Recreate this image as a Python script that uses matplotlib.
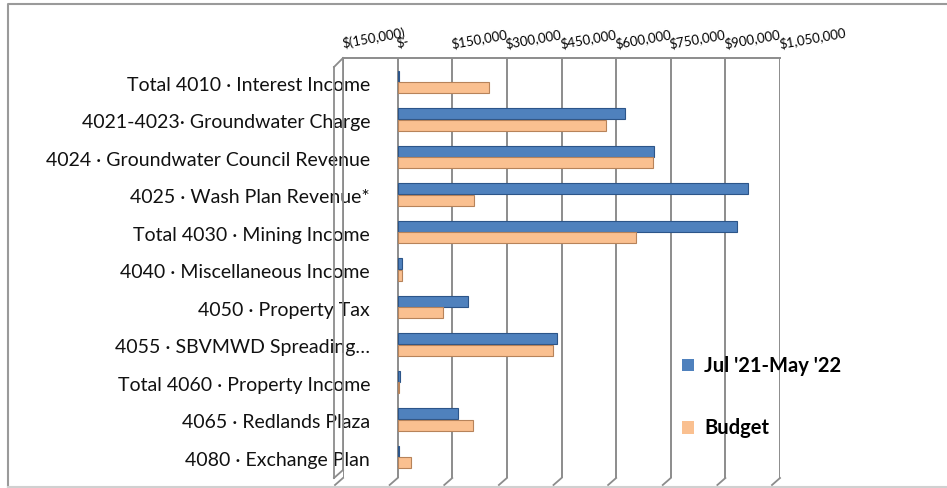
import numpy as np
import matplotlib
matplotlib.use("Agg")
import matplotlib.pyplot as plt
from matplotlib.lines import Line2D
from matplotlib.patches import Patch

categories = [
    "Total 4010 \u00b7 Interest Income",
    "4021-4023\u00b7 Groundwater Charge",
    "4024 \u00b7 Groundwater Council Revenue",
    "4025 \u00b7 Wash Plan Revenue*",
    "Total 4030 \u00b7 Mining Income",
    "4040 \u00b7 Miscellaneous Income",
    "4050 \u00b7 Property Tax",
    "4055 \u00b7 SBVMWD Spreading\u2026",
    "Total 4060 \u00b7 Property Income",
    "4065 \u00b7 Redlands Plaza",
    "4080 \u00b7 Exchange Plan",
]
actual = [4000, 624000, 703000, 961000, 931000, 13000, 192000, 437000, 6000, 165000, 4000]
budget = [252000, 571000, 700000, 209000, 654000, 12000, 124000, 428000, 4000, 206000, 36000]
series_names = ["Jul '21-May '22", "Budget"]
xticks = [-150000, 0, 150000, 300000, 450000, 600000, 750000, 900000, 1050000]

blue = "#4F81BD"
blue_edge = "#2C5589"
orange = "#FAC090"
orange_edge = "#B7835A"
grid_col = "#8C8C8C"

plt.rcParams['font.family'] = ['Lato', 'DejaVu Sans']

W, H = 947, 488
fig = plt.figure(figsize=(W / 100, H / 100), dpi=100)


def fx(px):
    return px / W


def fy(py):
    return 1 - py / H


ax = fig.add_axes([fx(343), fy(478), fx(780) - fx(343), fy(58) - fy(478)])

y = np.arange(len(categories))
bh = 0.29
ax.barh(y - 0.2, actual, height=bh, color=blue, edgecolor=blue_edge, linewidth=0.8, zorder=3)
ax.barh(y + 0.1, budget, height=bh, color=orange, edgecolor=orange_edge, linewidth=0.8, zorder=3)

ax.set_xlim(-150000, 1050000)
ax.set_ylim(10.51, -0.69)


def money(v):
    if v == 0:
        return "$-"
    if v < 0:
        return "$({:,})".format(-v)
    return "${:,}".format(v)


ax.xaxis.tick_top()
ax.set_xticks(xticks)
ax.set_xticklabels([money(v) for v in xticks], rotation=10, ha='left', va='bottom',
                   rotation_mode='anchor', fontsize=9.5)
ax.tick_params(axis='x', length=0, pad=6)
ax.grid(axis='x', color=grid_col, linewidth=1.4, zorder=0)

ax.set_yticks(y)
ax.set_yticklabels(categories, fontsize=14, color="#111111")
ax.tick_params(axis='y', length=0, pad=-19.5)
for lab in ax.get_yticklabels():
    lab.set_zorder(5)

for s in ['left', 'bottom', 'right']:
    ax.spines[s].set_visible(False)
ax.spines['top'].set_color(grid_col)
ax.spines['top'].set_linewidth(1.4)
ax.patch.set_alpha(0)

# floor edge: gridlines bend down-left at the bottom
for v in xticks:
    px = 343 + (v + 150000) / 1200000 * 437
    fig.add_artist(Line2D([fx(px), fx(px - 8)], [fy(478), fy(485)], color=grid_col, linewidth=1.3))

# side wall of the 3-D plot area
wall = [((334, 67), (334, 478)), ((334, 478), (343, 470)), ((343, 58), (343, 470)), ((334, 67), (343, 58))]
for (x0, y0), (x1, y1) in wall:
    fig.add_artist(Line2D([fx(x0), fx(x1)], [fy(y0), fy(y1)], color=grid_col, linewidth=1.3))

# chart border
fig.add_artist(Line2D([fx(8), fx(8), fx(947)], [fy(487), fy(4), fy(4)], color="#9A9A9A", linewidth=1.5))
fig.add_artist(Line2D([fx(8), fx(947)], [fy(487), fy(487)], color="#D0D0D0", linewidth=1.5))

handles = [Patch(facecolor=blue, edgecolor='none'), Patch(facecolor=orange, edgecolor='none')]
leg = fig.legend(handles, series_names, loc='upper left', bbox_to_anchor=(fx(664), fy(338)),
                 frameon=False, prop={'weight': 'bold', 'size': 14.5},
                 handlelength=0.6, handleheight=0.6, handletextpad=0.5, labelspacing=2.1)

fig.savefig("out.png", dpi=100)
